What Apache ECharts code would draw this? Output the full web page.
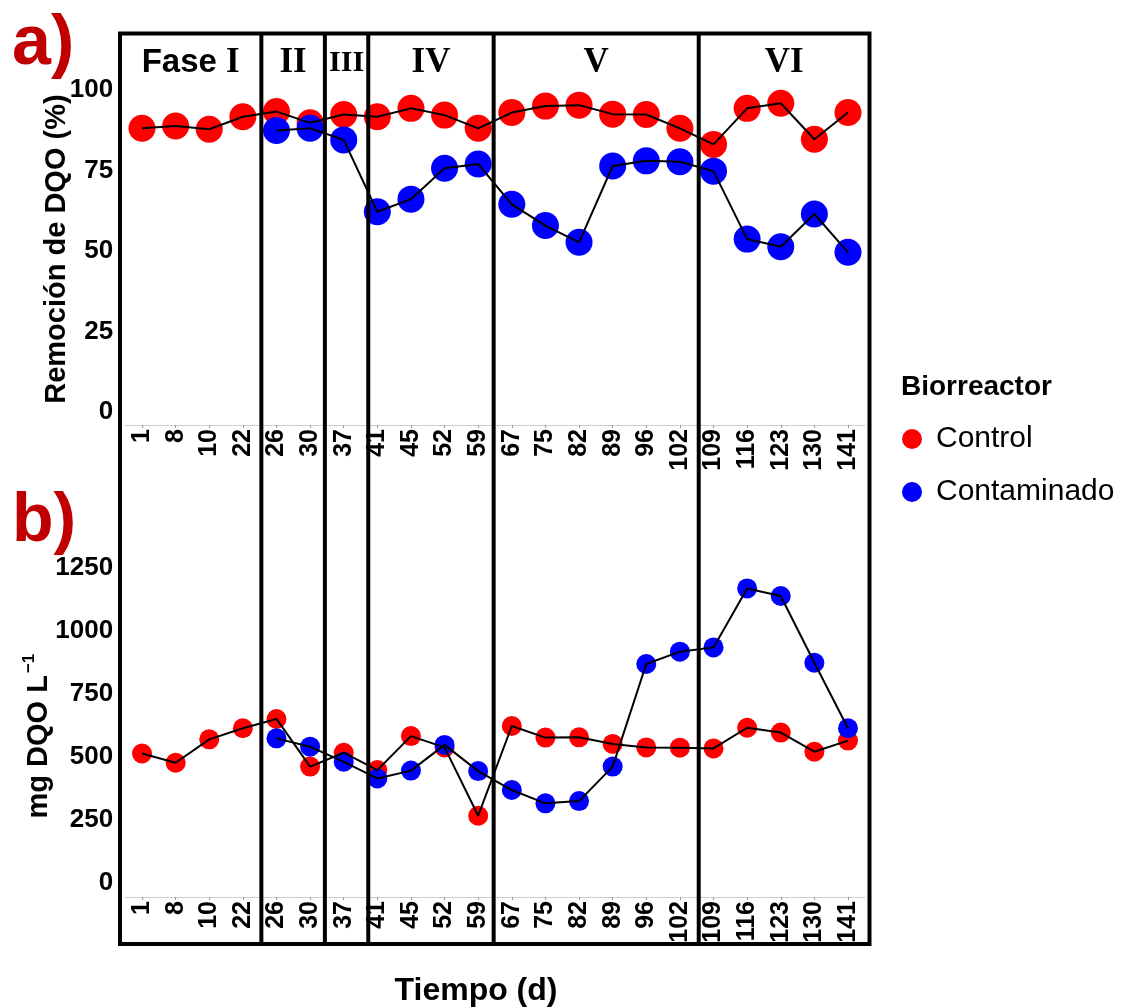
<!DOCTYPE html>
<html>
<head>
<meta charset="utf-8">
<script src="https://cdn.jsdelivr.net/npm/echarts@6/dist/echarts.min.js"></script>
<style>
html,body{margin:0;padding:0;background:#fff;}
#chart{width:1141px;height:1008px;}
</style>
</head>
<body>
<div id="chart"></div>
<script>
// ---- data ----
const days = ['1','8','10','22','26','30','37','41','45','52','59','67','75','82','89','96','102','109','116','123','130','141'];
const remocionControl = [88.1, 88.8, 87.8, 91.7, 93.3, 89.8, 92.4, 91.7, 94.3, 92.2, 88.1, 93.0, 95.0, 95.3, 92.5, 92.4, 88.1, 83.1, 94.3, 95.9, 84.7, 93.0];
const remocionContaminado = ['-', '-', '-', '-', 87.4, 88.1, 84.5, 62.2, 66.1, 75.7, 77.0, 64.5, 57.9, 52.7, 76.4, 78.0, 77.7, 74.8, 53.7, 51.3, 61.5, 49.6];
const dqoControl = [514, 477, 570, 614, 651, 462, 517, 448, 583, 538, 267, 623, 577, 578, 552, 538, 537, 534, 616, 597, 521, 565];
const dqoContaminado = ['-', '-', '-', '-', 574, 541, 481, 415, 446, 548, 444, 369, 316, 325, 462, 869, 918, 935, 1169, 1139, 874, 614];
const yTicksA = [0, 25, 50, 75, 100];
const yTicksB = [0, 250, 500, 750, 1000, 1250];
const phaseNames = ['I', 'II', 'III', 'IV', 'V', 'VI'];
// phase boundaries, in category-index units (between sampling days)
const phaseBreaks = [3.55, 5.44, 6.73, 10.46, 16.56];

// ---- layout / style ----
const SANS = "'Liberation Sans', Arial, 'DejaVu Sans', sans-serif";
const SERIF = "'Liberation Serif', 'Times New Roman', serif";
const RED = '#ff0000', BLUE = '#0000ff';
const gridLeft = 125.2, gridWidth = 739.6;
const pxA = 3.22, zeroA = 412, maxA = 115;
const pxB = 0.252, zeroB = 883, maxB = 1500;

const chart = echarts.init(document.getElementById('chart'), null, {renderer: 'canvas'});

function xAxisCfg(gi, offset) {
  return {
    type: 'category', gridIndex: gi, data: days, boundaryGap: true, offset: offset,
    axisLine: {show: true, onZero: false, lineStyle: {color: '#cfcfcf', width: 1}},
    axisTick: {show: true, alignWithLabel: true, length: 3, lineStyle: {color: '#9a9a9a'}},
    axisLabel: {interval: 0, rotate: 90, margin: 4, fontSize: 25, fontWeight: 'bold', color: '#000', fontFamily: SANS},
    splitLine: {show: false}
  };
}
function yAxisCfg(gi, max, interval, ticks) {
  return {
    type: 'value', gridIndex: gi, min: 0, max: max, interval: interval,
    axisLine: {show: false}, axisTick: {show: false}, splitLine: {show: false},
    axisLabel: {margin: 12, fontSize: 26, fontWeight: 'bold', color: '#000', fontFamily: SANS,
      formatter: v => ticks.indexOf(v) >= 0 ? String(v) : ''}
  };
}
function pts(name, gi, data, color, size) {
  return {name: name, type: 'scatter', xAxisIndex: gi, yAxisIndex: gi, data: data,
    symbol: 'circle', symbolSize: size, itemStyle: {color: color, opacity: 1}, z: 2, silent: true};
}
function path(gi, data) {
  return {type: 'line', xAxisIndex: gi, yAxisIndex: gi, data: data, showSymbol: false, symbol: 'none',
    lineStyle: {color: '#000', width: 2}, z: 5, silent: true, animation: false};
}

const option = {
  animation: false,
  backgroundColor: '#fff',
  grid: [
    {left: gridLeft, width: gridWidth, top: zeroA - maxA * pxA, height: maxA * pxA},
    {left: gridLeft, width: gridWidth, top: zeroB - maxB * pxB, height: maxB * pxB}
  ],
  xAxis: [xAxisCfg(0, 13), xAxisCfg(1, 14)],
  yAxis: [yAxisCfg(0, maxA, 25, yTicksA), yAxisCfg(1, maxB, 250, yTicksB)],
  legend: {
    data: ['Control', 'Contaminado'], orient: 'vertical', left: 897, top: 419,
    icon: 'circle', itemWidth: 20, itemHeight: 20, itemGap: 23,
    textStyle: {fontSize: 30, color: '#000', fontFamily: SANS, lineHeight: 30, padding: [0, 0, 0, 9]}
  },
  series: [
    pts('Control', 0, remocionControl, RED, 27),
    pts('Contaminado', 0, remocionContaminado, BLUE, 27),
    path(0, remocionControl),
    path(0, remocionContaminado),
    pts('Control', 1, dqoControl, RED, 20),
    pts('Contaminado', 1, dqoContaminado, BLUE, 20),
    path(1, dqoControl),
    path(1, dqoContaminado)
  ]
};
chart.setOption(option);

// ---- decorations computed from the axis scales ----
function xAt(f) {
  const i = Math.floor(f);
  const a = chart.convertToPixel({xAxisIndex: 0}, i);
  const b = chart.convertToPixel({xAxisIndex: 0}, i + 1);
  return a + (b - a) * (f - i);
}
const frame = {left: 120, right: 869.5, top: 33.5, bottom: 944};
const bounds = [frame.left].concat(phaseBreaks.map(xAt)).concat([frame.right]);
const graphics = [];
graphics.push({type: 'rect', shape: {x: frame.left, y: frame.top, width: frame.right - frame.left, height: frame.bottom - frame.top},
  style: {fill: null, stroke: '#000', lineWidth: 4}, z: 100});
phaseBreaks.forEach(f => {
  const x = xAt(f);
  graphics.push({type: 'line', shape: {x1: x, y1: frame.top, x2: x, y2: frame.bottom},
    style: {stroke: '#000', lineWidth: 4}, z: 100});
});
phaseNames.forEach((n, i) => {
  const cx = (bounds[i] + bounds[i + 1]) / 2;
  const txt = i === 0 ? '{s|Fase }{r|' + n + '}' : '{r|' + n + '}';
  graphics.push({type: 'text', x: cx, y: 63,
    style: {text: txt, align: 'center', verticalAlign: 'middle', fill: '#000',
      rich: {
        s: {fontSize: 33, fontWeight: 'bold', fontFamily: SANS, fill: '#000'},
        r: {fontSize: n === 'III' ? 30 : 35, fontWeight: 'bold', fontFamily: SERIF, fill: '#000'}
      }}, z: 100});
});
// y-axis titles, centred on the panel's value range
const yNameA = chart.convertToPixel({yAxisIndex: 0}, 50.6);
const yNameB = chart.convertToPixel({yAxisIndex: 1}, 583);
graphics.push({type: 'text', x: 57, y: yNameA, rotation: Math.PI / 2,
  style: {text: 'Remoción de DQO (%)', fontSize: 29, fontWeight: 'bold', fontFamily: SANS, fill: '#000', align: 'center', verticalAlign: 'middle'}});
graphics.push({type: 'text', x: 37, y: yNameB, rotation: Math.PI / 2,
  style: {text: '{n|mg DQO L}{sup|\u22121}', align: 'center', verticalAlign: 'middle', fill: '#000',
    rich: {
      n: {fontSize: 29, fontWeight: 'bold', fontFamily: SANS, fill: '#000', lineHeight: 32, verticalAlign: 'bottom'},
      sup: {fontSize: 17, fontWeight: 'bold', fontFamily: SANS, fill: '#000', lineHeight: 32, verticalAlign: 'top', padding: [0, 0, 0, 2]}
    }}});
graphics.push({type: 'text', x: 12, y: 45, style: {text: 'a)', fontSize: 70, fontWeight: 'bold', fontFamily: SANS, fill: '#c00000', align: 'left', verticalAlign: 'middle'}});
graphics.push({type: 'text', x: 12, y: 522, style: {text: 'b)', fontSize: 68, fontWeight: 'bold', fontFamily: SANS, fill: '#c00000', align: 'left', verticalAlign: 'middle'}});
graphics.push({type: 'text', x: 901, y: 387, style: {text: 'Biorreactor', fontSize: 28, fontWeight: 'bold', fontFamily: SANS, fill: '#000', align: 'left', verticalAlign: 'middle'}});
graphics.push({type: 'text', x: 476, y: 991, style: {text: 'Tiempo (d)', fontSize: 32, fontWeight: 'bold', fontFamily: SANS, fill: '#000', align: 'center', verticalAlign: 'middle'}});
chart.setOption({graphic: graphics});
</script>
</body>
</html>
